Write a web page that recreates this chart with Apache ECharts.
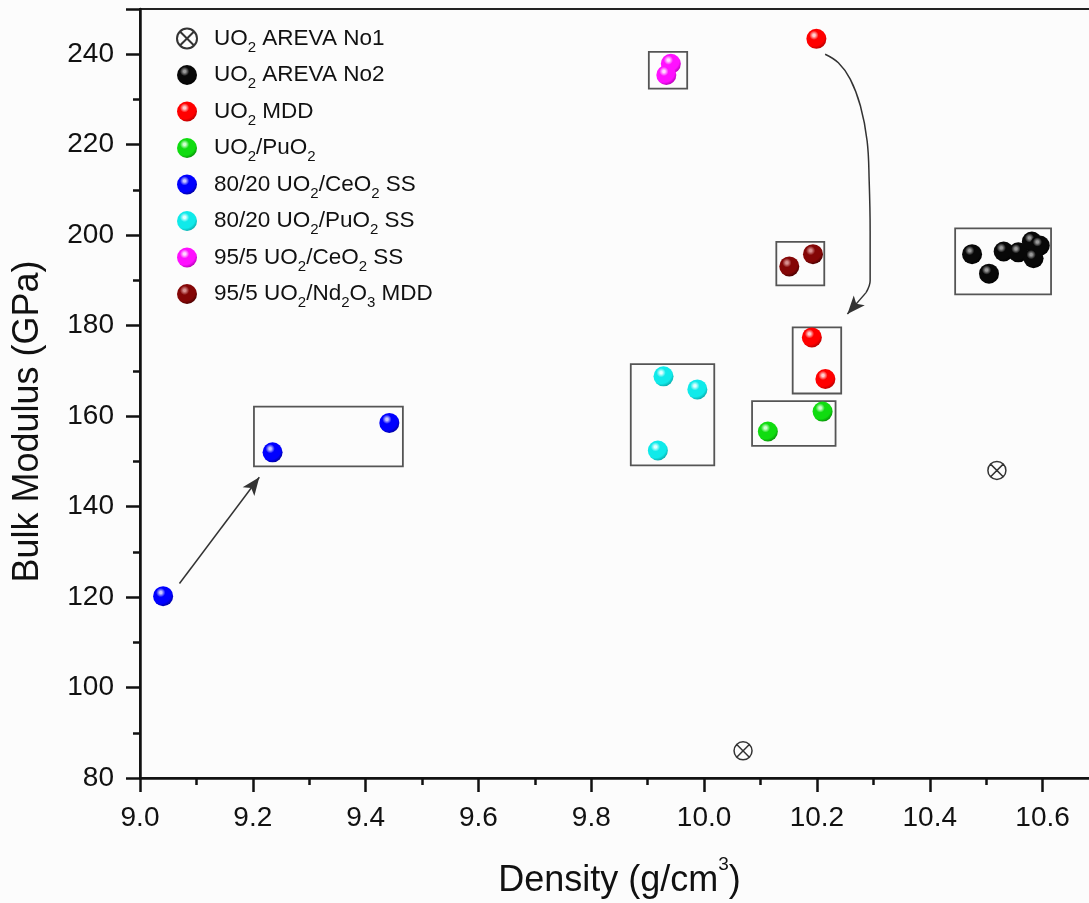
<!DOCTYPE html>
<html>
<head>
<meta charset="utf-8">
<script src="https://cdn.jsdelivr.net/npm/echarts@6/dist/echarts.min.js"></script>
<style>html,body{margin:0;padding:0;background:#fcfcfc;}#c{width:1089px;height:903px;}</style>
</head>
<body>
<div id="c"></div>
<script>
// ---- data (density g/cm3, bulk modulus GPa) ----
var areva1 = [[10.069, 86.0], [10.519, 148.0]];
var areva2 = [[10.475, 195.8], [10.505, 191.5], [10.531, 196.4], [10.557, 196.2], [10.581, 198.6], [10.595, 197.7], [10.584, 194.9]];
var uo2mdd = [[10.199, 243.4], [10.191, 177.4], [10.215, 168.2]];
var uo2puo2 = [[10.113, 156.6], [10.210, 161.0]];
var ceo2_80 = [[9.041, 120.2], [9.235, 152.0], [9.442, 158.5]];
var puo2_80 = [[9.928, 168.8], [9.988, 165.9], [9.918, 152.4]];
var ceo2_95 = [[9.941, 237.9], [9.933, 235.4]];
var nd_95 = [[10.151, 193.1], [10.193, 195.8]];

var seriesNames = ['UO2 AREVA No1', 'UO2 AREVA No2', 'UO2 MDD', 'UO2/PuO2', '80/20 UO2/CeO2 SS', '80/20 UO2/PuO2 SS', '95/5 UO2/CeO2 SS', '95/5 UO2/Nd2O3 MDD'];
var legendRich = [
  '{g|}{n|UO}{s|2}{n| AREVA No1}',
  '{g|}{n|UO}{s|2}{n| AREVA No2}',
  '{g|}{n|UO}{s|2}{n| MDD}',
  '{g|}{n|UO}{s|2}{n|/PuO}{s|2}',
  '{g|}{n|80/20 UO}{s|2}{n|/CeO}{s|2}{n| SS}',
  '{g|}{n|80/20 UO}{s|2}{n|/PuO}{s|2}{n| SS}',
  '{g|}{n|95/5 UO}{s|2}{n|/CeO}{s|2}{n| SS}',
  '{g|}{n|95/5 UO}{s|2}{n|/Nd}{s|2}{n|O}{s|3}{n| MDD}'
];

// annotation boxes [[x1,y1],[x2,y2]]
var boxes = [
  [[9.202, 148.9], [9.466, 162.1]],
  [[9.902, 232.4], [9.970, 240.5]],
  [[10.128, 188.9], [10.213, 198.5]],
  [[10.445, 186.9], [10.615, 201.5]],
  [[9.870, 149.1], [10.018, 171.5]],
  [[10.157, 165.0], [10.243, 179.6]],
  [[10.085, 153.4], [10.233, 163.3]]
];
// straight arrow
var arrow1 = [[9.070, 123.0], [9.2115, 146.5]];
// curved arrow path and its head segment
var arrow2Path = [[10.2145, 240.0], [10.238, 238.1], [10.259, 234.5], [10.277, 228.6], [10.289, 220.8], [10.2926, 212.0], [10.2943, 201.0], [10.2943, 189.9], [10.287, 187.3]];
var arrow2Head = [[10.287, 187.3], [10.254, 182.6]];

var xTicks = { min: 9.0, max: 10.7, interval: 0.2 };
var yTicks = { min: 80, max: 250, interval: 20 };

var FONT = 'Liberation Sans, Arial, sans-serif';

function ball(base, dark, hi) {
  return new echarts.graphic.RadialGradient(0.38, 0.32, 0.72, [
    { offset: 0, color: hi || '#ffffff' },
    { offset: 0.08, color: hi || '#ffffff' },
    { offset: 0.32, color: base },
    { offset: 0.75, color: base },
    { offset: 1, color: dark }
  ]);
}
var crossCircle = 'path://M1,10A9,9,0,1,1,19,10A9,9,0,1,1,1,10Z M3.2,3.2L16.8,16.8M16.8,3.2L3.2,16.8';

function scatter(name, data, color) {
  return {
    name: name, type: 'scatter', data: data, symbol: 'circle', symbolSize: 20,
    itemStyle: { color: color, opacity: 1 }, z: 5, silent: true
  };
}

var chart = echarts.init(document.getElementById('c'), null, { renderer: 'canvas' });
var option = {
  backgroundColor: '#fcfcfc',
  animation: false,
  grid: { left: 140, top: 9, width: 959, height: 769, show: true, borderColor: '#222', borderWidth: 2, backgroundColor: 'transparent', containLabel: false, outerBoundsMode: 'none' },
  legend: {
    orient: 'vertical', left: 171, top: 22, itemWidth: 20, itemHeight: 20, itemGap: 8.5,
    selectedMode: false,
    data: seriesNames,
    formatter: function (name) { return legendRich[seriesNames.indexOf(name)]; },
    textStyle: {
      rich: {
        g: { width: 12 },
        n: { fontFamily: FONT, fontSize: 22.5, color: '#111' },
        s: { fontFamily: FONT, fontSize: 15, color: '#111', padding: [18, 0, 0, 0] }
      }
    }
  },
  xAxis: {
    type: 'value', min: xTicks.min, max: xTicks.max, interval: xTicks.interval,
    name: '{n|Density (g/cm}{p|3}{n|)}', nameLocation: 'middle', nameGap: 77,
    nameTextStyle: {
      rich: {
        n: { fontFamily: FONT, fontSize: 36, color: '#111' },
        p: { fontFamily: FONT, fontSize: 19, color: '#111', padding: [0, 0, 34, 0] }
      }
    },
    axisLine: { show: true, lineStyle: { color: '#111', width: 2.5 } },
    axisTick: { show: true, inside: false, length: 14, lineStyle: { color: '#111', width: 2.5 } },
    minorTick: { show: true, splitNumber: 2, length: 7, lineStyle: { color: '#111', width: 2.5 } },
    axisLabel: { fontFamily: FONT, fontSize: 28, color: '#111', margin: 26, showMaxLabel: false, formatter: function (v) { return v.toFixed(1); } },
    splitLine: { show: false }
  },
  yAxis: {
    type: 'value', min: yTicks.min, max: yTicks.max, interval: yTicks.interval,
    name: 'Bulk Modulus (GPa)', nameLocation: 'middle', nameGap: 94,
    nameTextStyle: { fontFamily: FONT, fontSize: 36, color: '#111', padding: [0, 56, 0, 0] },
    axisLine: { show: true, lineStyle: { color: '#111', width: 2.5 } },
    axisTick: { show: true, inside: false, length: 14, lineStyle: { color: '#111', width: 2.5 } },
    minorTick: { show: true, splitNumber: 2, length: 7, lineStyle: { color: '#111', width: 2.5 } },
    axisLabel: { fontFamily: FONT, fontSize: 28, color: '#111', margin: 26, showMaxLabel: false },
    splitLine: { show: false }
  },
  series: [
    {
      name: 'annotations', type: 'scatter', data: [], silent: true,
      markArea: {
        silent: true,
        itemStyle: { color: 'rgba(0,0,0,0)', borderColor: '#555', borderWidth: 1.8, opacity: 1 },
        label: { show: false },
        data: boxes.map(function (b) { return [{ coord: b[0] }, { coord: b[1] }]; })
      },
      markLine: {
        silent: true, symbol: ['none', 'arrow'], symbolSize: [11, 18],
        lineStyle: { color: '#333', width: 1.5, type: 'solid', opacity: 1 },
        label: { show: false },
        data: [
          [{ coord: arrow1[0] }, { coord: arrow1[1] }],
          [{ coord: arrow2Head[0] }, { coord: arrow2Head[1] }]
        ]
      }
    },
    {
      name: 'arrowPath', type: 'line', data: arrow2Path, smooth: 0.4, showSymbol: false, silent: true,
      lineStyle: { color: '#333', width: 1.5 }
    },
    {
      name: seriesNames[0], type: 'scatter', data: areva1, symbol: crossCircle, symbolSize: 18, silent: true, z: 5,
      itemStyle: { color: 'rgba(0,0,0,0)', borderColor: '#333', borderWidth: 1.5, opacity: 1 }
    },
    scatter(seriesNames[1], areva2, ball('#080808', '#000000', '#9a9a9a')),
    scatter(seriesNames[2], uo2mdd, ball('#ff0000', '#b00000', '#ffd0d0')),
    scatter(seriesNames[3], uo2puo2, ball('#10dc10', '#088c08', '#d0ffd0')),
    scatter(seriesNames[4], ceo2_80, ball('#0000ff', '#00009a', '#c8c8ff')),
    scatter(seriesNames[5], puo2_80, ball('#10eaea', '#08a8a8', '#e0ffff')),
    scatter(seriesNames[6], ceo2_95, ball('#ff10ff', '#b000b0', '#ffd8ff')),
    scatter(seriesNames[7], nd_95, ball('#840606', '#460000', '#d89090'))
  ]
};
chart.setOption(option);
</script>
</body>
</html>
